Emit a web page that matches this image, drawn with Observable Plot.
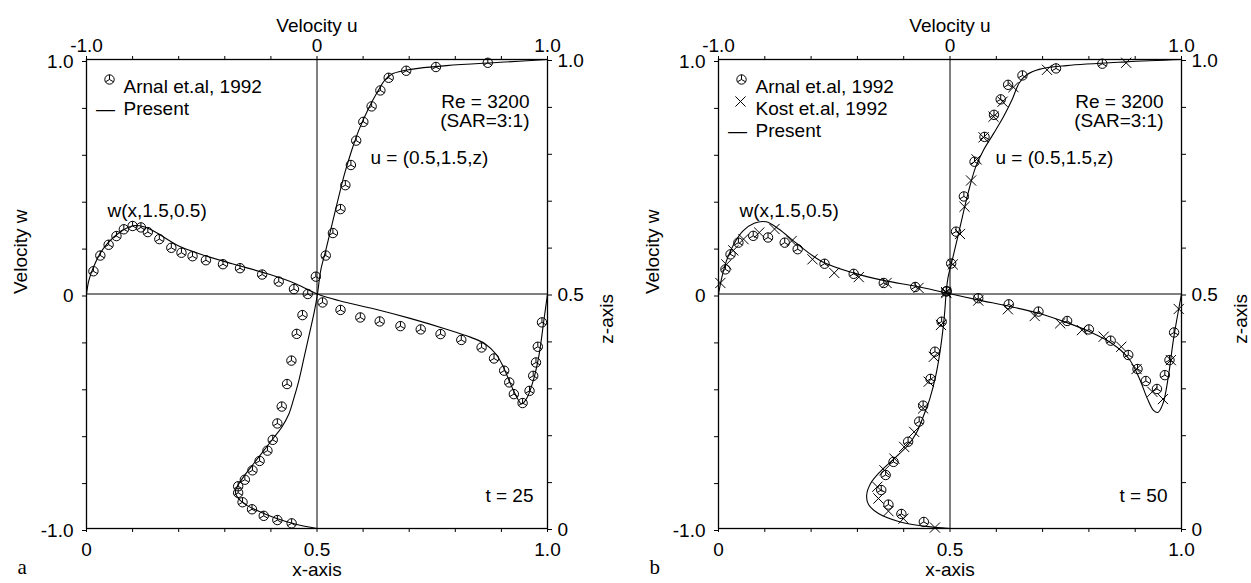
<!DOCTYPE html>
<html>
<head>
<meta charset="utf-8">
<script src="https://cdn.jsdelivr.net/npm/d3@7"></script>
<script src="https://cdn.jsdelivr.net/npm/@observablehq/plot@0.6"></script>
<style>
  html, body { margin: 0; padding: 0; background: #fff; }
  #wrap { display: flex; width: 1251px; height: 583px; overflow: hidden; }
</style>
</head>
<body>
<div id="wrap"></div>
<script>
// ---------- Tick values and labels ----------
const xTicks = [0, 0.1, 0.2, 0.3, 0.4, 0.5, 0.6, 0.7, 0.8, 0.9, 1.0];
const xTickLabels = ["0", "", "", "", "", "0.5", "", "", "", "", "1.0"];
const wTicks = [-1.0, -0.8, -0.6, -0.4, -0.2, 0, 0.2, 0.4, 0.6, 0.8, 1.0];
const wTickLabels = ["-1.0", "", "", "", "", "0", "", "", "", "", "1.0"];
const uTicks = [-1.0, -0.8, -0.6, -0.4, -0.2, 0, 0.2, 0.4, 0.6, 0.8, 1.0];
const uTickLabels = ["-1.0", "", "", "", "", "0", "", "", "", "", "1.0"];
const zTicks = [0, 0.1, 0.2, 0.3, 0.4, 0.5, 0.6, 0.7, 0.8, 0.9, 1.0];
const zTickLabels = ["0", "", "", "", "", "0.5", "", "", "", "", "1.0"];

// ---------- Panel a (t = 25) ----------
// u(0.5,1.5,z): [u, z]
const aUArnal = [[0.741,0.993],[0.516,0.984],[0.387,0.976],[0.311,0.961],[0.275,0.934],[0.237,0.900],[0.201,0.867],[0.170,0.827],[0.147,0.775],[0.123,0.732],[0.102,0.681],[0.069,0.630],[0.038,0.582],[-0.005,0.537],[-0.063,0.455],[-0.088,0.415],[-0.111,0.358],[-0.130,0.308],[-0.153,0.260],[-0.172,0.224],[-0.192,0.189],[-0.215,0.166],[-0.249,0.144],[-0.280,0.124],[-0.313,0.104],[-0.342,0.090],[-0.342,0.076],[-0.323,0.056],[-0.282,0.041],[-0.231,0.027],[-0.172,0.018],[-0.110,0.011]];
const aUPresent = [[1.0,1.0],[0.795,0.994],[0.562,0.987],[0.407,0.979],[0.330,0.970],[0.296,0.957],[0.260,0.929],[0.221,0.893],[0.182,0.850],[0.151,0.807],[0.120,0.757],[0.094,0.707],[0.066,0.650],[0.038,0.593],[0.016,0.550],[0.002,0.500],[-0.011,0.464],[-0.033,0.415],[-0.056,0.365],[-0.079,0.315],[-0.099,0.280],[-0.122,0.244],[-0.153,0.216],[-0.187,0.194],[-0.231,0.166],[-0.277,0.137],[-0.316,0.112],[-0.342,0.093],[-0.354,0.080],[-0.347,0.068],[-0.316,0.053],[-0.262,0.039],[-0.184,0.023],[-0.091,0.009],[0.0,0.0]];
// w(x,1.5,0.5): [x, w]
const aWArnal = [[0.015,0.097],[0.030,0.164],[0.048,0.210],[0.065,0.247],[0.081,0.276],[0.100,0.290],[0.118,0.284],[0.133,0.264],[0.158,0.234],[0.184,0.197],[0.206,0.176],[0.230,0.161],[0.259,0.144],[0.296,0.127],[0.333,0.110],[0.381,0.083],[0.417,0.053],[0.450,0.021],[0.480,0.000],[0.512,-0.036],[0.551,-0.068],[0.594,-0.100],[0.636,-0.117],[0.681,-0.137],[0.725,-0.151],[0.768,-0.171],[0.813,-0.196],[0.857,-0.228],[0.884,-0.275],[0.906,-0.327],[0.917,-0.377],[0.927,-0.427],[0.946,-0.465],[0.961,-0.413],[0.969,-0.349],[0.975,-0.292],[0.979,-0.225],[0.988,-0.121]];
const aWPresent = [[0,0],[0.005,0.057],[0.015,0.114],[0.029,0.171],[0.046,0.217],[0.068,0.257],[0.100,0.291],[0.126,0.286],[0.153,0.260],[0.199,0.206],[0.246,0.171],[0.316,0.129],[0.393,0.086],[0.455,0.043],[0.501,0.000],[0.547,-0.028],[0.625,-0.064],[0.702,-0.104],[0.779,-0.149],[0.834,-0.185],[0.865,-0.213],[0.888,-0.256],[0.903,-0.306],[0.917,-0.370],[0.930,-0.427],[0.944,-0.469],[0.956,-0.441],[0.969,-0.370],[0.982,-0.256],[0.992,-0.114],[1.0,0.0]];

// ---------- Panel b (t = 50) ----------
const bUArnal = [[0.658,0.991],[0.458,0.981],[0.313,0.966],[0.251,0.946],[0.219,0.915],[0.190,0.882],[0.149,0.835],[0.106,0.782],[0.060,0.708],[0.026,0.633],[0.005,0.565],[-0.014,0.506],[-0.036,0.441],[-0.065,0.377],[-0.084,0.319],[-0.116,0.262],[-0.133,0.228],[-0.181,0.185],[-0.244,0.142],[-0.278,0.114],[-0.297,0.082],[-0.266,0.051],[-0.210,0.031],[-0.113,0.014]];
const bUKost = [[0.761,0.993],[0.419,0.978],[0.274,0.941],[0.227,0.910],[0.188,0.878],[0.145,0.834],[0.115,0.787],[0.091,0.742],[0.063,0.686],[0.043,0.628],[0.012,0.563],[-0.017,0.504],[-0.039,0.434],[-0.070,0.366],[-0.092,0.313],[-0.116,0.256],[-0.155,0.206],[-0.198,0.174],[-0.240,0.149],[-0.283,0.124],[-0.314,0.089],[-0.309,0.064],[-0.266,0.037],[-0.201,0.021],[-0.065,0.002]];
const bUPresent = [[1.0,1.0],[0.761,0.995],[0.504,0.987],[0.385,0.979],[0.333,0.968],[0.299,0.950],[0.268,0.914],[0.231,0.878],[0.188,0.842],[0.145,0.807],[0.111,0.771],[0.077,0.713],[0.043,0.642],[0.012,0.577],[-0.009,0.534],[-0.017,0.500],[-0.024,0.455],[-0.041,0.384],[-0.061,0.327],[-0.087,0.277],[-0.113,0.242],[-0.143,0.206],[-0.181,0.178],[-0.241,0.149],[-0.300,0.122],[-0.343,0.096],[-0.360,0.071],[-0.352,0.051],[-0.309,0.032],[-0.215,0.014],[-0.113,0.005],[0.0,0.0]];
const bWArnal = [[0.015,0.105],[0.026,0.169],[0.043,0.219],[0.075,0.248],[0.107,0.241],[0.143,0.219],[0.171,0.191],[0.229,0.129],[0.292,0.086],[0.357,0.047],[0.425,0.030],[0.492,0.011],[0.561,-0.018],[0.627,-0.044],[0.691,-0.075],[0.753,-0.115],[0.800,-0.151],[0.847,-0.199],[0.885,-0.260],[0.905,-0.320],[0.923,-0.371],[0.947,-0.405],[0.964,-0.346],[0.974,-0.282],[0.984,-0.164]];
const bWKost = [[0.004,0.047],[0.017,0.126],[0.032,0.186],[0.054,0.234],[0.088,0.262],[0.121,0.277],[0.158,0.226],[0.203,0.148],[0.250,0.090],[0.303,0.072],[0.363,0.047],[0.432,0.026],[0.492,0.004],[0.561,-0.028],[0.625,-0.065],[0.683,-0.094],[0.738,-0.125],[0.785,-0.154],[0.832,-0.182],[0.870,-0.225],[0.903,-0.320],[0.937,-0.417],[0.960,-0.448],[0.977,-0.282],[0.994,-0.064]];
const bWPresent = [[0,0],[0.007,0.069],[0.017,0.140],[0.033,0.212],[0.053,0.269],[0.077,0.302],[0.103,0.308],[0.130,0.277],[0.171,0.212],[0.222,0.140],[0.291,0.090],[0.359,0.057],[0.427,0.033],[0.493,0.004],[0.563,-0.026],[0.631,-0.054],[0.691,-0.082],[0.751,-0.121],[0.802,-0.161],[0.849,-0.210],[0.886,-0.275],[0.909,-0.360],[0.926,-0.445],[0.939,-0.495],[0.949,-0.505],[0.960,-0.467],[0.971,-0.360],[0.983,-0.189],[1.0,0.0]];

// ---------- Text ----------
const legendA = ["Arnal et.al, 1992", "Present"];
const legendB = ["Arnal et.al, 1992", "Kost et.al, 1992", "Present"];
const reLabel = ["Re = 3200", "(SAR=3:1)"];
const uLabel = "u = (0.5,1.5,z)";
const wLabel = "w(x,1.5,0.5)";

const FONT = "'Liberation Sans', Arial, Helvetica, sans-serif";

// Circle with three spokes (Arnal et.al symbol)
const arnalSymbol = {
  draw(context, size) {
    const r = Math.sqrt(size / Math.PI);
    context.moveTo(r, 0);
    context.arc(0, 0, r, 0, 2 * Math.PI);
    const c = Math.cos(Math.PI / 6), s = Math.sin(Math.PI / 6);
    context.moveTo(0, 0); context.lineTo(0, -r);
    context.moveTo(0, 0); context.lineTo(r * c, r * s);
    context.moveTo(0, 0); context.lineTo(-r * c, r * s);
  }
};

const ux = d => (d[0] + 1) / 2;   // u -> x scale
const zy = d => 2 * d[1] - 1;     // z -> y scale
const wx = d => d[0];
const wy = d => d[1];

function labelMap(values, labels, f) {
  const pos = values.map(f);
  const m = new Map(pos.map((p, i) => [p, labels[i]]));
  return {pos, fmt: d => m.get(d) ?? ""};
}

function panel(cfg) {
  const top = labelMap(uTicks, uTickLabels, u => (u + 1) / 2);
  const bottom = labelMap(xTicks, xTickLabels, x => x);
  const left = labelMap(wTicks, wTickLabels, w => w);
  const right = labelMap(zTicks, zTickLabels, z => 2 * z - 1);
  const dotOpts = {r: 4.7, stroke: "black", strokeWidth: 1, fill: "none"};
  const marks = [
    Plot.ruleY([0], {stroke: "black", strokeWidth: 1}),
    Plot.ruleX([0.5], {stroke: "black", strokeWidth: 1}),
    Plot.frame({stroke: "black", strokeWidth: 1.3}),
    Plot.axisX(bottom.pos, {anchor: "bottom", tickSize: 4, tickPadding: 10, tickFormat: bottom.fmt, label: null}),
    Plot.axisX(top.pos, {anchor: "top", tickSize: 4, tickPadding: 4, tickFormat: top.fmt, label: null}),
    Plot.axisY(left.pos, {anchor: "left", tickSize: 4, tickPadding: 9, tickFormat: left.fmt, label: null, dy: 2}),
    Plot.axisY(right.pos, {anchor: "right", tickSize: 4, tickPadding: 6, tickFormat: right.fmt, label: null, dy: 1}),
    // Present curves
    Plot.line(cfg.uPresent, {x: ux, y: zy, stroke: "black", strokeWidth: 1.1, curve: "catmull-rom"}),
    Plot.line(cfg.wPresent, {x: wx, y: wy, stroke: "black", strokeWidth: 1.1, curve: "catmull-rom"}),
    // Arnal symbols
    Plot.dot(cfg.uArnal, {x: ux, y: zy, symbol: arnalSymbol, ...dotOpts}),
    Plot.dot(cfg.wArnal, {x: wx, y: wy, symbol: arnalSymbol, ...dotOpts}),
  ];
  if (cfg.uKost) {
    marks.push(Plot.dot(cfg.uKost, {x: ux, y: zy, symbol: "times", ...dotOpts}));
    marks.push(Plot.dot(cfg.wKost, {x: wx, y: wy, symbol: "times", ...dotOpts}));
  }
  // Legend
  cfg.legend.forEach((lab, i) => {
    const dy = 20 + 22 * i;
    if (lab.startsWith("Arnal")) {
      marks.push(Plot.dot([lab], {frameAnchor: "top-left", dx: 23, dy, symbol: arnalSymbol, ...dotOpts}));
    } else if (lab.startsWith("Kost")) {
      marks.push(Plot.dot([lab], {frameAnchor: "top-left", dx: 22, dy, symbol: "times", ...dotOpts}));
    } else {
      marks.push(Plot.text(["\u2014"], {text: d => d, frameAnchor: "top-left", dx: 19, dy, textAnchor: "middle"}));
    }
    marks.push(Plot.text([lab], {text: d => d, frameAnchor: "top-left", dx: 37, dy, textAnchor: "start"}));
  });
  // Annotations
  marks.push(
    Plot.text([reLabel[0]], {text: d => d, frameAnchor: "top-right", dx: -18, dy: 35, textAnchor: "end"}),
    Plot.text([reLabel[1]], {text: d => d, frameAnchor: "top-right", dx: -18, dy: 54, textAnchor: "end"}),
    Plot.text([uLabel], {text: d => d, frameAnchor: "top-left", dx: cfg.uLabelDx, dy: 91, textAnchor: "start"}),
    Plot.text([wLabel], {text: d => d, frameAnchor: "top-left", dx: 21, dy: 144, textAnchor: "start"}),
    Plot.text([cfg.tLabel], {text: d => d, frameAnchor: "bottom-right", dx: -14, dy: -27, textAnchor: "end"}),
    // Axis titles
    Plot.text(["Velocity u"], {text: d => d, frameAnchor: "top", dy: -41}),
    Plot.text(["x-axis"], {text: d => d, frameAnchor: "bottom", dy: 47}),
    Plot.text(["Velocity w"], {text: d => d, frameAnchor: "left", dx: -66, rotate: -90}),
    Plot.text(["z-axis"], {text: d => d, frameAnchor: "right", dx: 59, rotate: -90}),
    Plot.text([cfg.letter], {text: d => d, frameAnchor: "bottom-left", dx: -69, dy: 45, fontFamily: "'Liberation Serif', 'Times New Roman', serif", fontSize: 21})
  );
  return Plot.plot({
    width: cfg.width,
    height: 583,
    marginLeft: cfg.marginLeft,
    marginRight: cfg.marginRight,
    marginTop: 59,
    marginBottom: 55,
    x: {domain: [0, 1]},
    y: {domain: [-1, 1]},
    style: {fontFamily: FONT, fontSize: "19px", color: "black", background: "white", overflow: "visible"},
    marks
  });
}

const wrap = document.getElementById("wrap");
wrap.appendChild(panel({
  width: 630, marginLeft: 86, marginRight: 83,
  uArnal: aUArnal, uPresent: aUPresent, wArnal: aWArnal, wPresent: aWPresent,
  legend: legendA, tLabel: "t = 25", letter: "a", uLabelDx: 284
}));
wrap.appendChild(panel({
  width: 621, marginLeft: 88, marginRight: 70,
  uArnal: bUArnal, uKost: bUKost, uPresent: bUPresent,
  wArnal: bWArnal, wKost: bWKost, wPresent: bWPresent,
  legend: legendB, tLabel: "t = 50", letter: "b", uLabelDx: 277
}));
</script>
</body>
</html>
